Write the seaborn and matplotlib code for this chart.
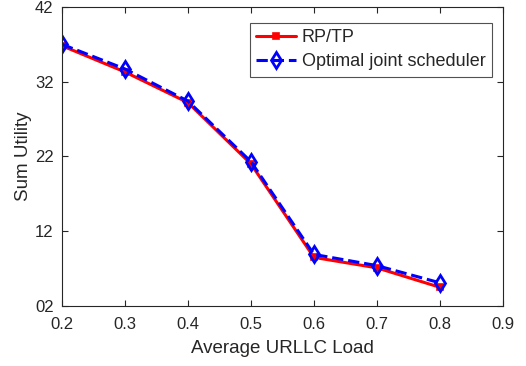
import seaborn as sns
import matplotlib.pyplot as plt
import pandas as pd

sns.set_theme(style="white")
plt.rcParams['font.family'] = ['Liberation Sans', 'DejaVu Sans']

load = [0.2, 0.3, 0.4, 0.5, 0.6, 0.7, 0.8]
rp_tp = [36.8, 33.3, 29.2, 21.0, 8.5, 7.1, 4.5]
optimal = [37.0, 33.7, 29.4, 21.3, 8.9, 7.4, 5.1]
y_ticks = [2, 12, 22, 32, 42]
y_labels = ["02", "12", "22", "32", "42"]
x_ticks = [0.2, 0.3, 0.4, 0.5, 0.6, 0.7, 0.8, 0.9]

data = pd.DataFrame({"load": load, "RP/TP": rp_tp, "Optimal joint scheduler": optimal})

fig = plt.figure(figsize=(5.26, 3.66), dpi=100)
ax = fig.add_axes([0.118, 0.164, 0.838, 0.817])

sns.lineplot(data=data, x="load", y="RP/TP", ax=ax, color="red", lw=2.2,
             marker="s", markersize=5, markeredgecolor="red", markerfacecolor="red",
             markeredgewidth=1.2, label="RP/TP")
sns.lineplot(data=data, x="load", y="Optimal joint scheduler", ax=ax, color="blue", lw=2.2,
             linestyle="--", dashes=(3, 2), marker="d", markersize=8, markeredgecolor="blue",
             markerfacecolor="none", markeredgewidth=2, label="Optimal joint scheduler")

ax.set_xlim(0.2, 0.9)
ax.set_ylim(2, 42)
ax.set_xticks(x_ticks)
ax.set_xticklabels([f"{v:.1f}" for v in x_ticks])
ax.set_yticks(y_ticks)
ax.set_yticklabels(y_labels)
ax.set_xlabel("Average URLLC Load", fontsize=13.5, color="#262626", labelpad=6)
ax.set_ylabel("Sum Utility", fontsize=13.5, color="#262626", labelpad=2)
ax.tick_params(direction="in", top=True, right=True, length=4, width=0.8,
               labelsize=12, colors="#262626", bottom=True, left=True)
ax.tick_params(axis="x", pad=8)
ax.tick_params(axis="y", pad=6)
for s in ax.spines.values():
    s.set_color("#262626")
    s.set_linewidth(0.8)

leg = ax.legend(loc="upper right", bbox_to_anchor=(0.995, 0.977), fontsize=13,
                frameon=True, fancybox=False, edgecolor="#262626",
                borderpad=0.35, labelspacing=0.4, handlelength=2.2, handletextpad=0.3)
leg.get_frame().set_linewidth(0.8)

plt.savefig("out.png", dpi=100)
plt.close()
